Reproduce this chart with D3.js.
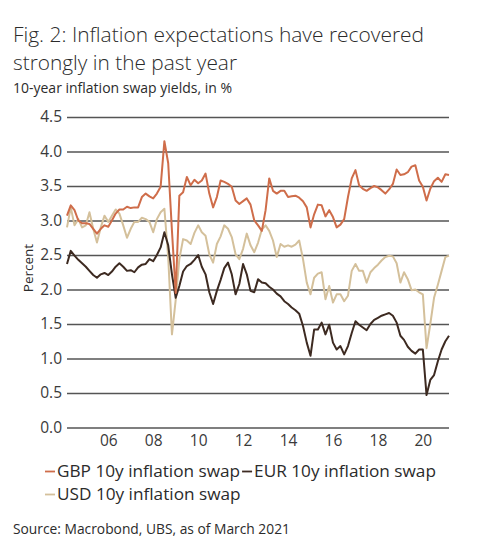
<!DOCTYPE html>
<html><head><meta charset="utf-8">
<script src="https://cdn.jsdelivr.net/npm/d3@7"></script>
<style>
body{margin:0;background:#fff}
svg{display:block}
text{font-family:"Open Sans",sans-serif}
</style>
</head><body>
<svg id="chart" width="495" height="538"></svg>
<script>
// ---- data (bimonthly observations, Mar 2004 .. Mar 2021) ----
const startMonth = "2004-03";
const stepMonths = 2;
const gbp = [3.07,3.22,3.15,3.00,2.96,2.96,2.95,2.88,2.81,2.88,
2.93,2.91,3.00,3.10,3.16,3.16,3.20,3.18,3.19,3.19,
3.34,3.39,3.35,3.32,3.39,3.49,4.15,3.83,2.85,1.95,
3.36,3.41,3.63,3.51,3.59,3.54,3.58,3.68,3.39,3.19,
3.34,3.58,3.56,3.53,3.49,3.29,3.24,3.28,3.32,3.23,
3.00,2.93,2.85,3.15,3.61,3.43,3.39,3.43,3.43,3.34,
3.35,3.36,3.33,3.28,3.19,2.90,3.09,3.23,3.22,3.06,
3.15,3.05,2.90,2.94,3.02,3.34,3.61,3.73,3.51,3.46,
3.43,3.47,3.50,3.48,3.44,3.39,3.45,3.53,3.74,3.66,
3.67,3.70,3.78,3.80,3.58,3.49,3.29,3.46,3.57,3.62,
3.56,3.67,3.66];
const eur = [2.37,2.56,2.49,2.43,2.38,2.33,2.27,2.21,2.17,2.22,
2.24,2.21,2.26,2.33,2.38,2.33,2.27,2.28,2.25,2.32,
2.36,2.37,2.44,2.41,2.50,2.61,2.83,2.64,2.22,1.88,
2.05,2.26,2.34,2.37,2.43,2.50,2.33,2.22,1.96,1.79,
1.98,2.14,2.31,2.39,2.22,1.93,2.08,2.37,2.22,1.98,
1.96,2.15,2.10,2.09,2.04,2.00,1.94,1.90,1.83,1.79,
1.74,1.70,1.65,1.47,1.23,1.04,1.42,1.42,1.52,1.35,
1.49,1.23,1.13,1.18,1.06,1.18,1.37,1.54,1.49,1.45,
1.41,1.50,1.56,1.59,1.62,1.64,1.66,1.62,1.52,1.33,
1.27,1.17,1.11,1.07,1.13,1.13,0.47,0.69,0.76,0.96,
1.13,1.25,1.33];
const usd = [2.90,3.19,2.93,3.02,2.90,2.93,3.12,2.88,2.68,2.90,
3.07,2.98,3.07,3.16,3.10,2.93,2.75,2.88,2.98,2.98,
3.04,3.02,2.98,2.83,3.02,3.12,3.17,2.47,1.35,1.85,
2.44,2.73,2.71,2.66,2.82,2.93,2.83,2.78,2.51,2.39,
2.66,2.77,2.93,2.88,2.76,2.51,2.44,2.59,2.81,2.64,
2.54,2.68,2.87,2.93,2.85,2.71,2.47,2.66,2.62,2.64,
2.62,2.65,2.71,2.44,2.10,1.93,2.17,2.23,2.25,1.86,
2.05,1.81,1.93,1.93,1.83,1.91,2.27,2.37,2.27,2.27,
2.10,2.25,2.31,2.36,2.42,2.47,2.49,2.48,2.38,2.10,
2.25,2.15,1.99,2.00,1.96,1.93,1.15,1.50,1.88,2.07,
2.27,2.47,2.49];
const seriesNames = ["GBP 10y inflation swap","EUR 10y inflation swap","USD 10y inflation swap"];
const yTicks = [0,0.5,1.0,1.5,2.0,2.5,3.0,3.5,4.0,4.5];
const xTickYears = [2006,2008,2010,2012,2014,2016,2018,2020];
const xDomain = ["2004-03-01","2021-03-01"];
const titleLines = ["Fig. 2: Inflation expectations have recovered","strongly in the past year"];
const subtitle = "10-year inflation swap yields, in %";
const yLabel = "Percent";
const source = "Source: Macrobond, UBS, as of March 2021";

// ---- styles ----
const colors = {GBP:"#cf6d4a", EUR:"#3d2a21", USD:"#d4c09b"};
const textColor = "#2b2b2b";

const svg = d3.select("#chart");
const parseM = d3.timeParse("%Y-%m");
const parseD = d3.timeParse("%Y-%m-%d");
const t0 = parseM(startMonth);
const dates = gbp.map((_, i) => d3.timeMonth.offset(t0, i * stepMonths));

const x = d3.scaleTime().domain(xDomain.map(parseD)).range([67, 449]);
const y = d3.scaleLinear().domain([0, 4.5]).range([427.5, 117]);

// titles
const titleWidths = [411, 224];
svg.selectAll("text.title").data(titleLines).enter().append("text")
  .attr("class","title").attr("x",13).attr("y",(d,i)=>42+i*28)
  .attr("font-size",21).attr("font-weight",300).attr("fill",textColor)
  .attr("textLength",(d,i)=>titleWidths[i]).attr("lengthAdjust","spacingAndGlyphs")
  .text(d=>d);
svg.append("text").attr("x",13).attr("y",93).attr("font-size",14)
  .attr("fill",textColor).attr("textLength",219).attr("lengthAdjust","spacingAndGlyphs")
  .text(subtitle);

// y axis / gridlines
const gy = svg.append("g").attr("transform","translate(67,0)")
  .call(d3.axisLeft(y).tickValues(yTicks).tickFormat(d3.format(".1f"))
    .tickSizeInner(-(449-67)).tickSizeOuter(0).tickPadding(5));
gy.select(".domain").remove();
gy.selectAll(".tick line").attr("stroke","#555").attr("stroke-width",1.5);
gy.selectAll(".tick text").attr("font-size",15.5).attr("fill","#3a3a3a")
  .attr("font-family","Open Sans");

svg.append("text").attr("transform","translate(33,268) rotate(-90)")
  .attr("text-anchor","middle").attr("font-size",13.5).attr("fill",textColor).text(yLabel);

// x axis
const gx = svg.append("g").attr("transform","translate(0,427.5)")
  .call(d3.axisBottom(x).tickValues(xTickYears.map(yr=>new Date(yr,0,1)))
    .tickFormat(d3.timeFormat("%y")).tickSize(0).tickPadding(7));
gx.select(".domain").remove();
gx.selectAll(".tick text").attr("font-size",15.5).attr("fill","#3a3a3a")
  .attr("font-family","Open Sans");

// lines
const line = d3.line().x((d,i)=>x(dates[i])).y(d=>y(d));
const drawOrder = [[usd,colors.USD],[eur,colors.EUR],[gbp,colors.GBP]];
svg.selectAll("path.series").data(drawOrder).enter().append("path")
  .attr("class","series").attr("fill","none")
  .attr("stroke",d=>d[1]).attr("stroke-width",2).attr("stroke-linejoin","round")
  .attr("d",d=>line(d[0]));

// legend
const legendColors = [colors.GBP, colors.EUR, colors.USD];
const lg = svg.append("g");
let lx = 45, ly = 477;
seriesNames.forEach((name,i)=>{
  if(i===2){ lx = 45; ly = 500; }
  const g = lg.append("g").attr("transform",`translate(${lx},${ly})`);
  g.append("line").attr("x1",0).attr("x2",10).attr("y1",-5.5).attr("y2",-5.5)
    .attr("stroke",legendColors[i]).attr("stroke-width",1.8);
  const t = g.append("text").attr("x",12).attr("font-size",17.2).attr("fill",textColor).text(name);
  lx += 12 + t.node().getComputedTextLength() + 2;
});

svg.append("text").attr("x",13).attr("y",534).attr("font-size",13.8)
  .attr("fill",textColor).text(source);
</script>
</body></html>
